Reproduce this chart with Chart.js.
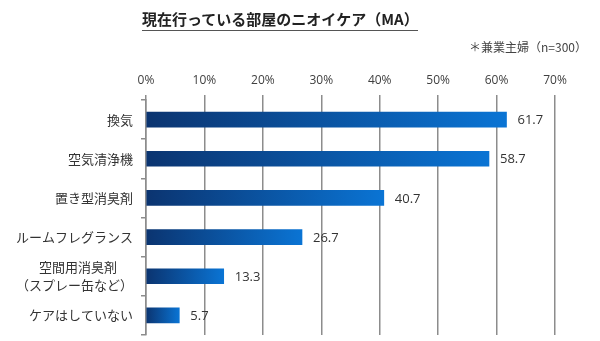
<!DOCTYPE html>
<html lang="ja">
<head>
<meta charset="UTF-8">
<title>現在行っている部屋のニオイケア（MA）</title>
<script src="https://cdn.jsdelivr.net/npm/chart.js"></script>
<style>
  body { margin: 0; background: #fff; font-family: "Noto Sans CJK JP", sans-serif; }
  #wrap { position: relative; width: 600px; height: 341px; }
  #title { position: absolute; left: 142px; top: 9px; width: 276px; font-size: 15px; font-weight: bold;
           color: #222; border-bottom: 1.5px solid #555; line-height: 20px; padding-bottom: 1px; }
  #note { position: absolute; right: 13px; top: 38px; font-size: 12px; color: #444; }
  canvas { position: absolute; left: 0; top: 0; }
</style>
</head>
<body>
<div id="wrap">
  <canvas id="chart" width="600" height="341"></canvas>
  <div id="title">現在行っている部屋のニオイケア（MA）</div>
  <div id="note">＊兼業主婦（n=300）</div>
</div>
<script>
const categories = ["換気", "空気清浄機", "置き型消臭剤", "ルームフレグランス", ["空間用消臭剤\u3000 ", "（スプレー缶など）"], "ケアはしていない"];
const values = [61.7, 58.7, 40.7, 26.7, 13.3, 5.7];
const tickValues = [0, 10, 20, 30, 40, 50, 60, 70];

function barGradient(ctx) {
  const chart = ctx.chart;
  const x = chart.scales.x;
  if (!x || ctx.dataIndex === undefined) return "#0a5bb0";
  const x0 = x.getPixelForValue(0);
  const x1 = x.getPixelForValue(values[ctx.dataIndex]);
  if (!isFinite(x0) || !isFinite(x1) || x1 <= x0) return "#0a5bb0";
  const g = chart.ctx.createLinearGradient(x0, 0, x1, 0);
  g.addColorStop(0, "#0b3470");
  g.addColorStop(1, "#0a74d4");
  return g;
}

const valueLabels = {
  id: "valueLabels",
  afterDatasetsDraw(chart) {
    const c = chart.ctx;
    const meta = chart.getDatasetMeta(0);
    c.save();
    c.fillStyle = "#333";
    c.font = "13px 'Open Sans', sans-serif";
    c.textBaseline = "middle";
    c.textAlign = "left";
    meta.data.forEach((bar, i) => {
      c.fillText(values[i].toFixed(1), bar.x + 11, bar.y + 1);
    });
    c.restore();
  }
};

new Chart(document.getElementById("chart"), {
  type: "bar",
  data: {
    labels: categories,
    datasets: [{
      data: values,
      backgroundColor: barGradient,
      barThickness: 15
    }]
  },
  options: {
    indexAxis: "y",
    responsive: false,
    animation: false,
    layout: { padding: { left: 0, right: 45, top: 0, bottom: 6 } },
    plugins: { legend: { display: false }, tooltip: { enabled: false } },
    scales: {
      x: {
        position: "top",
        min: 0,
        max: 70,
        afterFit(scale) { scale.height = 100; },
        afterBuildTicks(scale) { scale.ticks = tickValues.map(v => ({ value: v })); },
        ticks: {
          padding: 7,
          color: "#404040",
          font: { size: 12, family: "'Open Sans', sans-serif" },
          callback: v => v + "%"
        },
        grid: { color: "#8c8c8c", lineWidth: 1.5, drawTicks: true, tickLength: 5 },
        border: { display: false }
      },
      y: {
        afterFit(scale) {
          scale.width = 146;
          scale.paddingTop = 0;
          scale.paddingBottom = 0;
        },
        ticks: {
          autoSkip: false,
          padding: 8,
          color: "#333",
          font: { size: 13, family: "'Noto Sans CJK JP', sans-serif", lineHeight: 1.4 }
        },
        grid: { offset: true, drawOnChartArea: false, color: "#8c8c8c", tickLength: 5, lineWidth: 1.5 },
        border: { display: true, color: "#8c8c8c", width: 1.5 }
      }
    }
  },
  plugins: [valueLabels]
});
</script>
</body>
</html>
